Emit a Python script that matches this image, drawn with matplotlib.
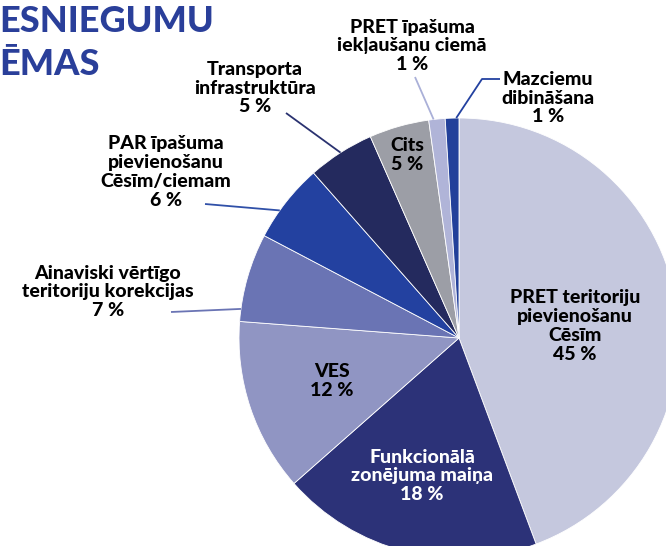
import numpy as np
import matplotlib
matplotlib.use('Agg')
from matplotlib import pyplot as plt

W, H = 666, 546

topics = ['PRET teritoriju\npievienošanu\nCēsīm',
          'Funkcionālā\nzonējuma maiņa',
          'VES',
          'Ainaviski vērtīgo\nteritoriju korekcijas',
          'PAR īpašuma\npievienošanu\nCēsīm/ciemam',
          'Transporta\ninfrastruktūra',
          'Cits',
          'PRET īpašuma\niekļaušanu ciemā',
          'Mazciemu\ndibināšana']
# slice sizes as drawn in the picture, printed percentages as on the labels
shares = [44.3, 19.2, 12.7, 6.5, 5.8, 4.9, 4.4, 1.2, 1.0]
pct_labels = ['45 %', '18 %', '12 %', '7 %', '6 %', '5 %', '5 %', '1 %', '1 %']

colors = ['#c5c8de', '#2c3278', '#9095c3', '#6a74b4', '#2341a0',
          '#242a5e', '#9c9ea6', '#b0b4d8', '#22409a']
text_colors = ['black', 'white', 'black', 'black', 'black',
               'black', 'black', 'black', 'black']

# label centres in picture pixels (y from top)
label_pos = [(575, 326), (422, 476), (332, 381), (108, 292), (166, 172),
             (255, 88), (407, 155), (412, 46), (548, 98)]
# leader lines: slice index -> (start point, place along the slice arc, elbow)
leaders = {3: ((171, 312), 0.86, None),
           4: ((205, 204), 0.63, None),
           5: ((286, 113), 0.50, None),
           7: ((415, 77), 0.70, None),
           8: ((500, 79), 0.20, (482, 79))}
leader_colors = {3: '#6a74b4', 4: '#3050a8', 5: '#2a3270', 7: '#aab0d8', 8: '#2341a0'}

title_color = '#2a3f9a'
font = ['Lato', 'DejaVu Sans']

cx, cy, rad = 459, H - 338, 220

fig = plt.figure(figsize=(W / 100, H / 100), dpi=100)
ax = fig.add_axes([0, 0, 1, 1])

wedges, _ = ax.pie(shares, colors=colors, startangle=90, counterclock=False,
                   center=(cx, cy), radius=rad, frame=False,
                   wedgeprops=dict(edgecolor='white', linewidth=0.6))
ax.set_xlim(0, W)
ax.set_ylim(0, H)
ax.set_aspect('equal')
ax.axis('off')

for i, (x, y) in enumerate(label_pos):
    ax.text(x, H - y, topics[i] + '\n' + pct_labels[i], ha='center', va='center',
            fontsize=14, fontweight='black', family=font, color=text_colors[i],
            linespacing=1.12)

for i, (start, f, elbow) in leaders.items():
    w = wedges[i]
    a = np.deg2rad(w.theta1 + f * (w.theta2 - w.theta1))
    tip = (cx + rad * np.cos(a), cy + rad * np.sin(a))
    pts = [start] + ([elbow] if elbow else [])
    xs = [p[0] for p in pts] + [tip[0]]
    ys = [H - p[1] for p in pts] + [tip[1]]
    ax.plot(xs, ys, color=leader_colors[i], lw=1.3, solid_capstyle='butt')

ax.text(-1, H - 32, 'ESNIEGUMU', ha='left', va='baseline', fontsize=26,
        fontweight='black', family=font, color=title_color)
ax.text(-1, H - 75, 'ĒMAS', ha='left', va='baseline', fontsize=26,
        fontweight='black', family=font, color=title_color)

fig.savefig('out.png', dpi=100)
